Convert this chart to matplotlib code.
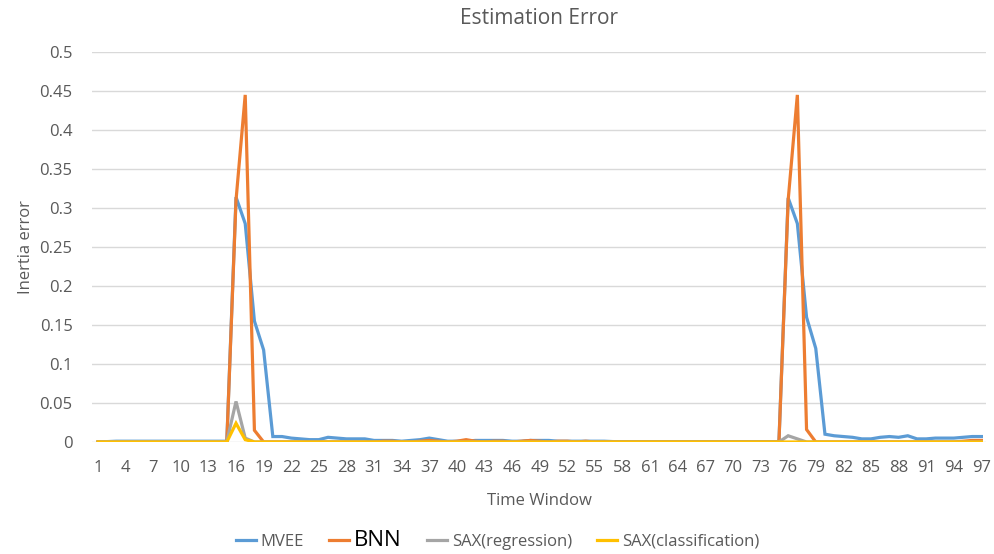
import matplotlib
matplotlib.use("Agg")
import matplotlib.pyplot as plt
import numpy as np

plt.rcParams['font.family'] = ['Open Sans', 'DejaVu Sans']

windows = list(range(1, 98))

mvee = [0, 0.0005, 0.001, 0.001, 0.001, 0.001, 0.001, 0.001, 0.001, 0.001,
        0.001, 0.001, 0.001, 0.001, 0.001, 0.314, 0.28, 0.155, 0.118, 0.007,
        0.007, 0.005, 0.004, 0.003, 0.003, 0.006, 0.005, 0.004, 0.004, 0.004,
        0.002, 0.002, 0.002, 0.001, 0.002, 0.003, 0.005, 0.003, 0.001, 0.001,
        0.001, 0.002, 0.002, 0.002, 0.002, 0.001, 0.001, 0.002, 0.002, 0.002,
        0.001, 0.001, 0.001, 0.001, 0.001, 0.001, 0.0005, 0.0005, 0.0005, 0.0005,
        0.0005, 0.0005, 0.0005, 0.0005, 0.0005, 0.0005, 0.0005, 0.0005, 0.0005, 0.0005,
        0.0005, 0.0005, 0.0005, 0.0005, 0.0005, 0.313, 0.28, 0.16, 0.12, 0.01,
        0.008, 0.007, 0.006, 0.004, 0.004, 0.006, 0.007, 0.006, 0.008, 0.004,
        0.004, 0.005, 0.005, 0.005, 0.006, 0.007, 0.007]

bnn = [0, 0, 0, 0, 0, 0, 0, 0, 0, 0,
       0, 0, 0, 0, 0, 0.31, 0.445, 0.015, 0, 0,
       0, 0, 0, 0, 0, 0, 0, 0, 0, 0,
       0, 0.001, 0.001, 0, 0, 0.001, 0.002, 0.001, 0, 0.001,
       0.003, 0.001, 0, 0.001, 0.001, 0, 0.001, 0.002, 0.001, 0,
       0.001, 0.001, 0, 0.001, 0, 0, 0, 0, 0, 0,
       0, 0, 0, 0, 0, 0, 0, 0, 0, 0,
       0, 0, 0, 0, 0, 0.31, 0.445, 0.016, 0, 0,
       0, 0, 0, 0, 0, 0, 0, 0, 0, 0,
       0, 0, 0, 0, 0.001, 0.002, 0.002]

sax_reg = [0, 0.0005, 0.0005, 0.0005, 0.0005, 0.0005, 0.0005, 0.0005, 0.0005, 0.0005,
           0.0005, 0.0005, 0.0005, 0.0005, 0.0005, 0.052, 0.005, 0, 0, 0,
           0, 0, 0, 0, 0, 0, 0, 0, 0, 0,
           0, 0, 0, 0, 0, 0, 0, 0, 0, 0,
           0, 0, 0, 0, 0, 0, 0, 0, 0, 0,
           0, 0, 0, 0, 0, 0, 0, 0, 0, 0,
           0, 0, 0, 0, 0, 0, 0, 0, 0, 0,
           0, 0, 0, 0, 0, 0.008, 0.004, 0, 0, 0,
           0, 0, 0, 0, 0, 0, 0, 0, 0, 0,
           0, 0, 0, 0, 0, 0, 0]

sax_cls = [0, 0, 0, 0, 0, 0, 0, 0, 0, 0,
           0, 0, 0, 0, 0, 0.024, 0.003, 0, 0, 0,
           0, 0, 0, 0, 0, 0, 0, 0, 0, 0,
           0, 0, 0, 0, 0, 0, 0, 0, 0, 0,
           0, 0, 0, 0, 0, 0, 0, 0, 0, 0,
           0, 0, 0, 0, 0, 0, 0, 0, 0, 0,
           0, 0, 0, 0, 0, 0, 0, 0, 0, 0,
           0, 0, 0, 0, 0, 0, 0, 0, 0, 0,
           0, 0, 0, 0, 0, 0, 0, 0, 0, 0,
           0, 0, 0, 0, 0, 0, 0]

series = [
    ("MVEE", mvee, "#5B9BD5"),
    ("BNN", bnn, "#ED7D31"),
    ("SAX(regression)", sax_reg, "#A5A5A5"),
    ("SAX(classification)", sax_cls, "#FFC000"),
]

y_ticks = [0, 0.05, 0.1, 0.15, 0.2, 0.25, 0.3, 0.35, 0.4, 0.45, 0.5]
y_labels = ["0", "0.05", "0.1", "0.15", "0.2", "0.25", "0.3", "0.35", "0.4", "0.45", "0.5"]
x_ticks = list(range(1, 98, 3))

text_color = "#595959"

fig = plt.figure(figsize=(9.95, 5.54), dpi=100)
ax = fig.add_axes([92 / 995, 1 - 442 / 554, (986 - 92) / 995, (442 - 52) / 554])

for name, vals, col in series:
    ax.plot(windows, vals, color=col, linewidth=2.3, label=name,
            solid_joinstyle='miter')

ax.set_xlim(0.35, 97.5)
ax.set_ylim(0, 0.5)
ax.set_yticks(y_ticks)
ax.set_yticklabels(y_labels)
ax.set_xticks(x_ticks)
ax.set_xticklabels([str(t) for t in x_ticks])
ax.grid(axis='y', color="#D9D9D9", linewidth=1.0)
ax.set_axisbelow(True)
for sp in ax.spines.values():
    sp.set_visible(False)
ax.tick_params(axis='both', length=0, labelsize=12, colors=text_color)
ax.tick_params(axis='y', pad=14)
ax.tick_params(axis='x', pad=13)

ax.set_title("Estimation Error", fontsize=15, color=text_color, pad=20)
ax.set_xlabel("Time Window", fontsize=12, color=text_color, labelpad=12)
ax.set_ylabel("Inertia error", fontsize=12, color=text_color, labelpad=4)

leg = fig.legend(loc='center', ncol=4, frameon=False, fontsize=12,
                 handlelength=1.2, columnspacing=1.5, handletextpad=0.3,
                 bbox_to_anchor=(0.5, 1 - 540 / 554),
                 bbox_transform=fig.transFigure)
for t in leg.get_texts():
    t.set_color(text_color)
leg.get_texts()[1].set_color("black")
leg.get_texts()[1].set_fontsize(16)

fig.savefig("out.png", dpi=100)
